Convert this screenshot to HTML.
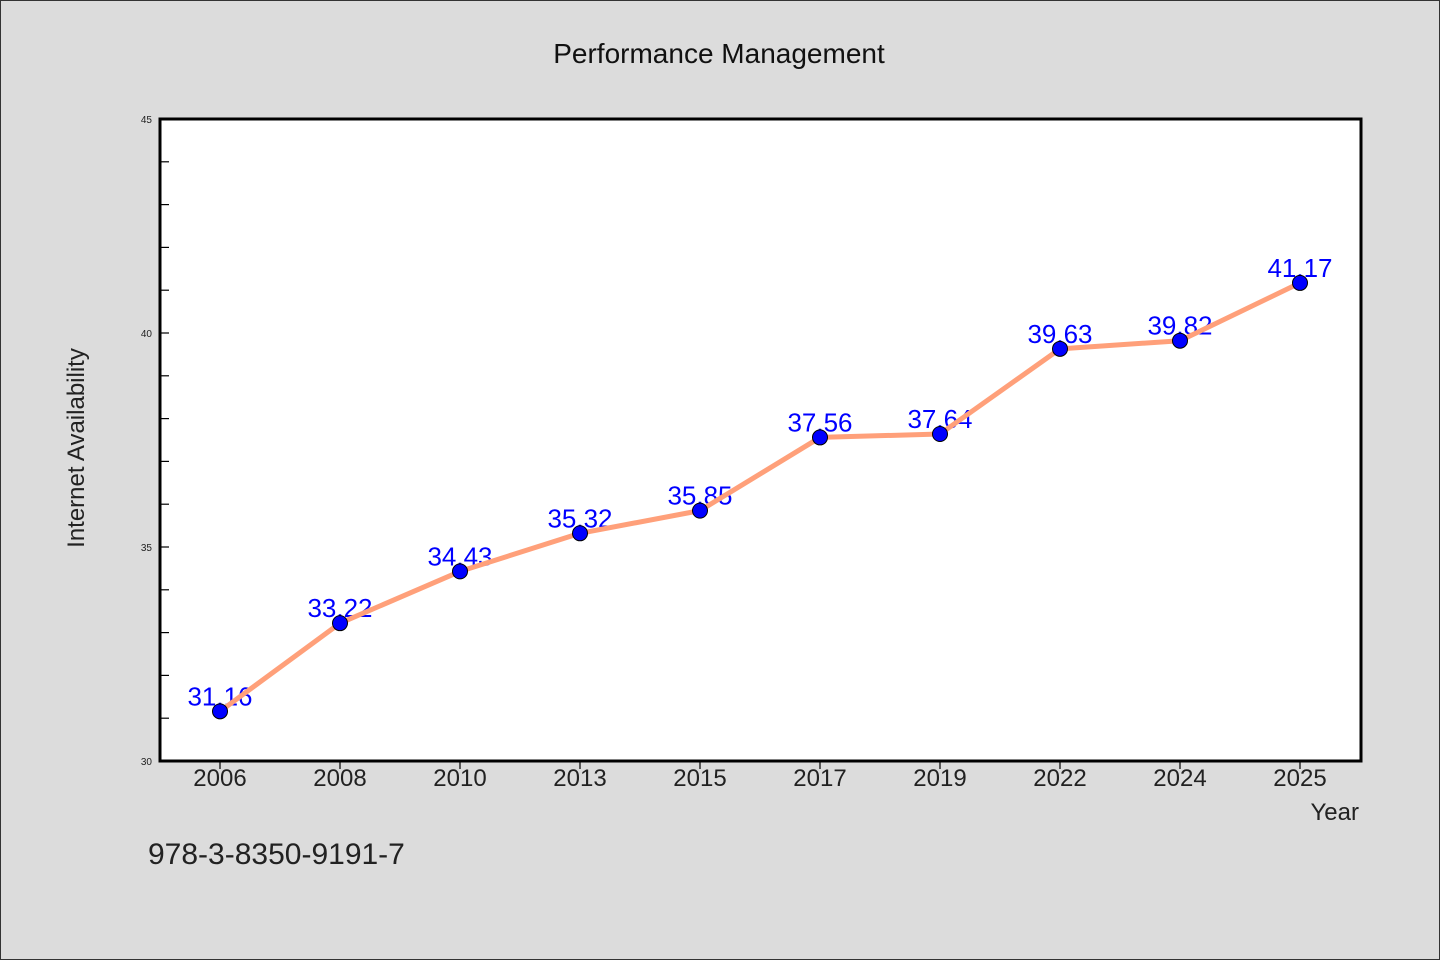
<!DOCTYPE html>
<html><head><meta charset="utf-8"><style>
body{margin:0;background:#dcdcdc;}
svg{display:block;font-family:"WenQuanYi Zen Hei","Liberation Sans",sans-serif;}
</style></head><body>
<svg id="chart" width="1440" height="960">
<rect x="0.5" y="0.5" width="1439" height="959" fill="#dcdcdc" stroke="#333"/>
<text x="719" y="63" font-size="28" text-anchor="middle" fill="#111">Performance Management</text>
<rect x="160" y="119" width="1201" height="642" fill="#fff"/>
<g id="axes"></g>
<g id="marks"></g>
<rect x="160" y="119" width="1201" height="642" fill="none" stroke="#000" stroke-width="3"/>
<text x="84" y="448" font-size="24" text-anchor="middle" fill="#222" transform="rotate(-90 84 448)">Internet Availability</text>
<text x="1359" y="820" font-size="24" text-anchor="end" fill="#222">Year</text>
<text x="148" y="864" font-size="30" fill="#222">978-3-8350-9191-7</text>
</svg>
<script>
const categories=["2006","2008","2010","2013","2015","2017","2019","2022","2024","2025"];
const values=[31.16,33.22,34.43,35.32,35.85,37.56,37.64,39.63,39.82,41.17];
const valueLabels=["31.16","33.22","34.43","35.32","35.85","37.56","37.64","39.63","39.82","41.17"];
const yTicks=[30,35,40,45];
const NS="http://www.w3.org/2000/svg";
const x0=160,x1=1361,yTop=119,yBot=761,yMin=30,yMax=45;
const step=(x1-x0-20)/categories.length;
function xs(i){return x0+60+i*120*(categories.length*120+0>0?1:1)*((x1-x0)/1201);}
function ys(v){return yBot-(v-yMin)/(yMax-yMin)*(yBot-yTop);}
function mk(t,a,p){const e=document.createElementNS(NS,t);for(const k in a)e.setAttribute(k,a[k]);p.appendChild(e);return e;}
const axes=document.getElementById('axes'),marks=document.getElementById('marks');
for(let v=yMin;v<=yMax;v++){
  const l=mk('line',{x1:x0,x2:x0+9,y1:ys(v),y2:ys(v),stroke:'#000','stroke-width':1.2},axes);
  
  
}
yTicks.forEach(v=>{
  const t=mk('text',{x:x0-8,y:ys(v)+4,'font-size':10,'text-anchor':'end',fill:'#222'},axes);
  t.textContent=v;
  
  
});
categories.forEach((c,i)=>{
  const l=mk('line',{x1:xs(i),x2:xs(i),y1:yBot,y2:yBot+8,stroke:'#000','stroke-width':1.2},axes);
  
  
  const t=mk('text',{x:xs(i),y:yBot+25,'font-size':24,'text-anchor':'middle',fill:'#222'},axes);
  t.textContent=c;
  
  
});
values.forEach((v,i)=>{
  const t=mk('text',{x:xs(i),y:ys(v)-6,'font-size':26,'text-anchor':'middle',fill:'#0000ff'},marks);
  t.textContent=valueLabels[i];
  
  
});
const pl=mk('polyline',{points:values.map((v,i)=>xs(i)+','+ys(v)).join(' '),fill:'none',stroke:'#ffa07a','stroke-width':5,'stroke-linejoin':'round'},marks);


values.forEach((v,i)=>{
  const c=mk('circle',{cx:xs(i),cy:ys(v),r:7.5,fill:'#0000ff',stroke:'#000','stroke-width':1},marks);
  
  
});
</script>
</body></html>
